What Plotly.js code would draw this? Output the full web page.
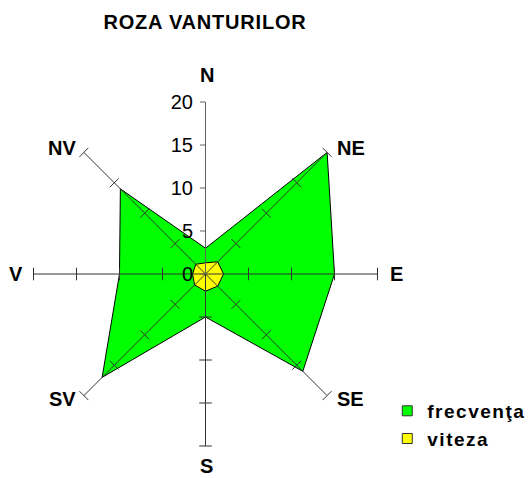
<!DOCTYPE html>
<html>
<head>
<meta charset="utf-8">
<script src="https://cdn.plot.ly/plotly-3.0.1.min.js"></script>
<style>
html,body{margin:0;padding:0;background:#fff;}
#chart{width:532px;height:478px;}
#chart .gtitle{letter-spacing:0.8px;}
#chart .legendtext{letter-spacing:1.5px;}
#chart .legend .scrollbox{clip-path:none !important;}
</style>
</head>
<body>
<div id="chart"></div>
<script>
// ---- data ----
var directions = ['N', 'NE', 'E', 'SE', 'S', 'SV', 'V', 'NV'];
var frecventa = [3, 20, 15, 16, 5, 17, 10, 14];
var viteza = [1.3, 2.0, 2.1, 2.0, 2.0, 1.8, 1.5, 1.6];
var radialTicks = [5, 10, 15, 20];
var radialMax = 20;
var seriesNames = ['frecvenţa', 'viteza'];
var chartTitle = 'ROZA VANTURILOR';

// ---- styles / geometry ----
var W = 532, H = 478;
var FONT = 'Liberation Sans, Arial, sans-serif';
var GREEN = '#00FF00', YELLOW = '#FFFF00';
var AXIS = '#606060';
var PL = 33.5, PR = 377.5, PT = 102, PB = 446;   // polar domain in pixels
var CX = (PL + PR) / 2, CY = (PT + PB) / 2, RAD = (PR - PL) / 2;

function closed(arr) { return arr.concat([arr[0]]); }

var traces = [];
traces.push({
  type: 'scatterpolar', mode: 'lines', name: seriesNames[0],
  r: closed(frecventa), theta: closed(directions),
  fill: 'toself', fillcolor: GREEN,
  line: {color: '#000', width: 1}, showlegend: false
});
traces.push({
  type: 'scatterpolar', mode: 'lines', name: seriesNames[1],
  r: closed(viteza), theta: closed(directions),
  fill: 'toself', fillcolor: YELLOW,
  line: {color: '#000', width: 1}, showlegend: false
});

// spokes drawn above the fills (as in the original)
var sr = [], st = [];
directions.forEach(function (d, i) {
  if (i === 0) return;
  sr.push(0, radialMax, null);
  st.push(d, d, null);
});
traces.push({
  type: 'scatterpolar', mode: 'lines', r: sr, theta: st,
  line: {color: '#333', width: 1}, showlegend: false, hoverinfo: 'skip'
});

// cross tick marks on each spoke
var tr = [], tt = [], ta = [];
directions.forEach(function (d, i) {
  if (i === 0) return;
  radialTicks.forEach(function (v) {
    tr.push(v); tt.push(d); ta.push(i * 360 / directions.length);
  });
});
traces.push({
  type: 'scatterpolar', mode: 'markers', r: tr, theta: tt,
  marker: {symbol: 'line-ew', size: 9, angle: ta, color: '#333', line: {color: '#333', width: 1}},
  showlegend: false, hoverinfo: 'skip'
});

// legend entries
traces.push({
  type: 'scatterpolar', mode: 'markers', name: seriesNames[0], r: [null], theta: [directions[0]],
  marker: {symbol: 'square', size: 10, color: GREEN, line: {color: '#333', width: 1}}
});
traces.push({
  type: 'scatterpolar', mode: 'markers', name: seriesNames[1], r: [null], theta: [directions[0]],
  marker: {symbol: 'square', size: 10, color: YELLOW, line: {color: '#333', width: 1}}
});

// direction labels (category names) placed just outside the spoke ends
var annotations = directions.map(function (d, i) {
  var a = i * 2 * Math.PI / directions.length;
  var s = Math.round(Math.sin(a) * 1000) / 1000, c = Math.round(Math.cos(a) * 1000) / 1000;
  var px = CX + RAD * s, py = CY - RAD * c;
  var cardinalNS = Math.abs(s) < 0.01;
  var diag = Math.abs(s) > 0.01 && Math.abs(c) > 0.01;
  return {
    text: d, showarrow: false, xref: 'paper', yref: 'paper',
    x: px / W, y: 1 - py / H,
    xanchor: s > 0.01 ? 'left' : (s < -0.01 ? 'right' : 'center'),
    yanchor: cardinalNS ? (c > 0 ? 'bottom' : 'top') : 'middle',
    xshift: s > 0.01 ? (diag ? 8 : 10) : (s < -0.01 ? (diag ? -6 : -8.5) : 1),
    yshift: cardinalNS ? (c > 0 ? 14 : -7) : (diag ? (c > 0 ? 4 : -3) : 0),
    font: {family: FONT, size: 20, weight: 'bold', color: '#000'}
  };
});

var layout = {
  width: W, height: H,
  margin: {l: 0, r: 0, t: 0, b: 0},
  paper_bgcolor: '#fff',
  font: {family: FONT, color: '#000'},
  title: {
    text: chartTitle, x: 205 / W, xanchor: 'center', xref: 'paper',
    y: 1 - 22 / H, yanchor: 'middle', yref: 'paper',
    font: {family: FONT, size: 20, weight: 'bold', color: '#000'}
  },
  showlegend: true,
  legend: {
    x: 0.728, y: 0.18, xanchor: 'left', yanchor: 'top',
    font: {family: FONT, size: 19, weight: 'bold', color: '#000'},
    itemwidth: 30, bgcolor: 'rgba(0,0,0,0)', tracegroupgap: 0
  },
  annotations: annotations,
  polar: {
    domain: {x: [PL / W, PR / W], y: [(H - PB) / H, (H - PT) / H]},
    bgcolor: '#fff',
    radialaxis: {
      range: [0, radialMax], tickvals: [0].concat(radialTicks), angle: 90,
      side: 'counterclockwise', tickangle: 90,
      ticks: 'outside', ticklen: 5, tickcolor: AXIS, tickwidth: 1,
      showline: true, linecolor: AXIS, linewidth: 1,
      showgrid: false, layer: 'above traces',
      tickfont: {family: FONT, size: 20, color: '#000'}
    },
    angularaxis: {
      type: 'category', categoryarray: directions,
      direction: 'clockwise', rotation: 90,
      showgrid: false, showline: false, showticklabels: false, ticks: ''
    }
  }
};

Plotly.newPlot('chart', traces, layout, {staticPlot: true, displayModeBar: false});
</script>
</body>
</html>
